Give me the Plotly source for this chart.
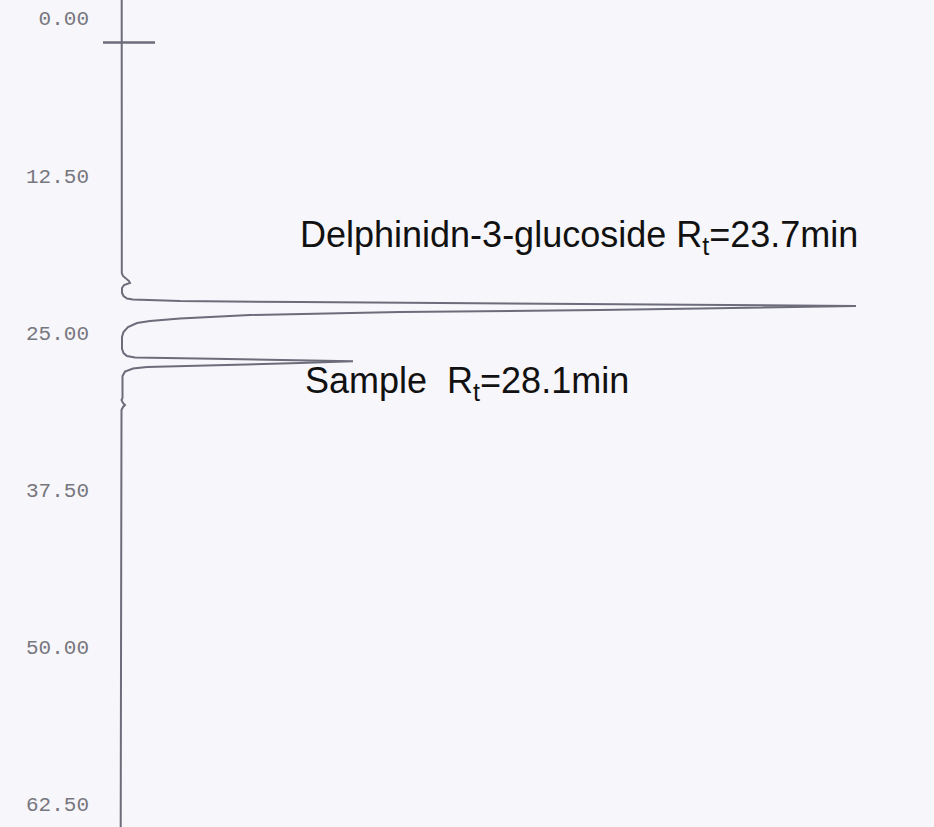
import plotly.graph_objects as go

# Chromatogram trace: retention time (min) runs down the page, detector signal to the right
time_min = [
    -0.64, 21.08, 21.32, 21.72, 21.88, 22.04, 22.28, 22.67, 22.91, 23.11,
    23.19, 23.31, 23.39, 23.44, 23.55, 23.63, 23.70, 23.91, 24.03, 24.18,
    24.42, 24.70, 24.90, 25.06, 25.38, 25.78, 26.17, 27.12, 27.45, 27.69,
    27.81, 27.90, 28.05, 28.10, 28.25, 28.48, 28.56, 28.68, 28.93, 29.28,
    31.03, 31.19, 31.42, 31.58, 31.74, 31.98, 65.16,
]
signal = [
    0.2, 0.3, 1.5, 7.5, 8.5, 2.5, 0.5, 0.5, 2.0, 5.5,
    11.5, 58.5, 178.5, 278.5, 478.5, 628.5, 734.5, 578.5, 478.5, 278.5,
    128.5, 58.5, 28.5, 15.5, 6.5, 2.0, 0.5, 0.5, 2.0, 5.5,
    13.5, 91.5, 191.5, 231.5, 178.5, 58.5, 25.5, 11.5, 3.5, 1.0,
    1.0, 0.0, 1.5, 3.5, 1.5, 0.0, -0.8,
]

# Injection mark
inject_time = [2.74, 2.74]
inject_signal = [-18.5, 33.5]

# Time axis ticks
tick_vals = [0.0, 12.5, 25.0, 37.5, 50.0, 62.5]
tick_text = [f"{v:.2f}" for v in tick_vals]

# Peak annotations
peak_labels = ["Delphinidn-3-glucoside R<sub>t</sub>=23.7min", "Sample  R<sub>t</sub>=28.1min"]
peak_times = [23.7, 28.1]

line_color = "#6c6c7a"

fig = go.Figure()
fig.add_trace(go.Scatter(
    x=signal, y=time_min, mode="lines",
    line=dict(color=line_color, width=2),
    hoverinfo="skip", showlegend=False,
))
fig.add_trace(go.Scatter(
    x=inject_signal, y=inject_time, mode="lines",
    line=dict(color=line_color, width=2.5),
    hoverinfo="skip", showlegend=False,
))

label_pos = [(176.5, 18.2), (181.5, 29.8)]
for text, (ax, ay) in zip(peak_labels, label_pos):
    fig.add_annotation(
        x=ax, y=ay, xref="x", yref="y", text=text, showarrow=False,
        xanchor="left", yanchor="middle",
        font=dict(family="Liberation Sans, Arial, sans-serif", size=36, color="#111111"),
    )

fig.update_layout(
    width=934, height=827,
    margin=dict(l=100, r=0, t=0, b=0),
    paper_bgcolor="#f7f6fa",
    plot_bgcolor="#f7f6fa",
    showlegend=False,
    xaxis=dict(range=[-21.5, 812.5], visible=False, fixedrange=True),
    yaxis=dict(
        range=[65.16, -0.64],
        tickvals=tick_vals, ticktext=tick_text,
        ticks="", showgrid=False, zeroline=False, showline=False,
        ticklabelposition="outside",
        ticklabelshift=-10,
        ticklabelstandoff=10,
        tickfont=dict(family="Liberation Mono, Courier New, monospace", size=21, color="#77777f"),
        fixedrange=True,
    ),
)

fig.write_html("out.html")
